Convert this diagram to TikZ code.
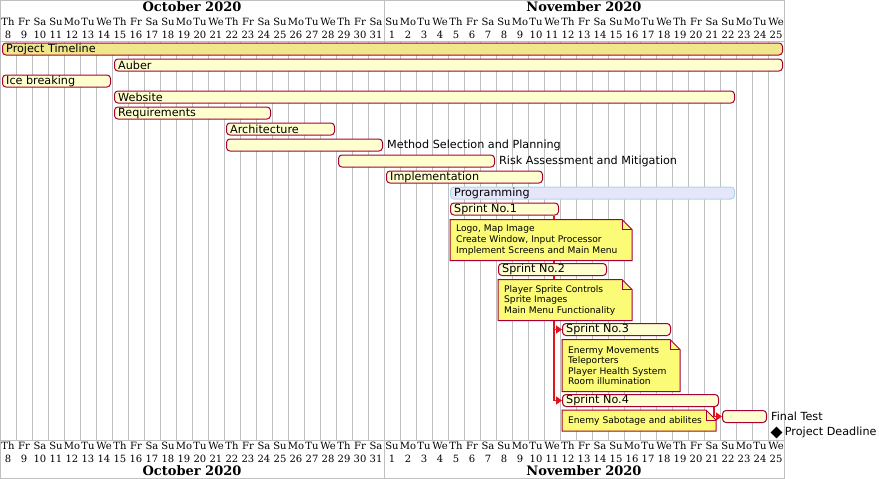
\documentclass[tikz,border=0pt]{standalone}
\usepackage{fontspec}
\setmainfont{DejaVu Sans}
\newfontfamily\hdrfont{DejaVu Serif}
\usepackage{tikz}
\usetikzlibrary{arrows.meta, backgrounds, shapes.geometric}

\definecolor{barline}{HTML}{A80036}
\definecolor{barfill}{HTML}{FEFECE}
\definecolor{topfill}{HTML}{F0E68C}
\definecolor{progfill}{HTML}{E6E6FA}
\definecolor{progline}{HTML}{ADD8E6}
\definecolor{notefill}{HTML}{FBFB77}
\definecolor{gridgray}{HTML}{C0C0C0}
\definecolor{depred}{HTML}{E0141E}

\tikzset{
  taskbar/.style={draw=barline, fill=barfill, line width=1pt, rounded corners=3.5pt,
    minimum height=12pt, inner sep=0pt, anchor=west},
  tasklabel/.style={anchor=west, inner sep=0pt, font=\fontsize{11.2}{13}\selectfont},
  notebox/.style={fill=notefill, inner xsep=6pt, inner ysep=0pt, align=left,
    font=\fontsize{9.1}{10.6}\selectfont, anchor=north west},
  depline/.style={draw=depred, line width=1.6pt, -{Triangle[length=6pt,width=8pt]}},
  dayname/.style={font=\hdrfont\fontsize{10}{12}\selectfont, inner sep=0pt},
  monthname/.style={font=\hdrfont\bfseries\fontsize{13}{15}\selectfont, inner sep=0pt}
}

\begin{document}
\begin{tikzpicture}[x=1pt, y=-1pt]
\useasboundingbox (0,0) rectangle (879,479);

% calendar grid and header frames
\begin{pgfonlayer}{background}
\foreach \i in {0,...,49} {
  \draw[gridgray] (16*\i, 41.5) -- (16*\i, 440);
}
\draw[gridgray] (0,0.5) -- (784,0.5);
\draw[gridgray] (0,41.5) -- (784,41.5);
\draw[gridgray] (0,440) -- (784,440);
\draw[gridgray] (0,478.5) -- (784,478.5);
\draw[gridgray] (0.5,0) -- (0.5,41.5) (0.5,440) -- (0.5,479);
\draw[gridgray] (384,0) -- (384,41.5) (384,440) -- (384,479);
\draw[gridgray] (784,0) -- (784,479);
\end{pgfonlayer}

\foreach \i in {0,...,48} {
  \pgfmathtruncatemacro\dnum{\i<24 ? \i+8 : \i-23}
  \pgfmathsetmacro\dname{{"Th","Fr","Sa","Su","Mo","Tu","We"}[mod(\i,7)]}
  \node[dayname] (tw\i) at (16*\i+8, 22) {\dname};
  \node[dayname] (tn\i) at (16*\i+8, 34.5) {\dnum};
  \node[dayname] (bw\i) at (16*\i+8, 446) {\dname};
  \node[dayname] (bn\i) at (16*\i+8, 458.5) {\dnum};
}
\node[monthname] (octtop) at (192,6.5) {October 2020};
\node[monthname] (novtop) at (584,6.5) {November 2020};
\node[monthname] (octbot) at (192,471) {October 2020};
\node[monthname] (novbot) at (584,471) {November 2020};

% tasks
\node[taskbar, fill=topfill, minimum width=780pt] (timeline) at (2,49) {};
\node[tasklabel] at ([xshift=4pt]timeline.west) {Project Timeline};
\node[taskbar, minimum width=668pt] (auber) at (114,65) {};
\node[tasklabel] at ([xshift=4pt]auber.west) {Auber};
\node[taskbar, minimum width=108pt] (ice) at (2,81) {};
\node[tasklabel] at ([xshift=4pt]ice.west) {Ice breaking};
\node[taskbar, minimum width=620pt] (website) at (114,97) {};
\node[tasklabel] at ([xshift=4pt]website.west) {Website};
\node[taskbar, minimum width=156pt] (req) at (114,113) {};
\node[tasklabel] at ([xshift=4pt]req.west) {Requirements};
\node[taskbar, minimum width=108pt] (arch) at (226,129) {};
\node[tasklabel] at ([xshift=4pt]arch.west) {Architecture};
\node[taskbar, minimum width=156pt] (method) at (226,145) {};
\node[tasklabel] at ([xshift=4pt]method.east) {Method Selection and Planning};
\node[taskbar, minimum width=156pt] (risk) at (338,161) {};
\node[tasklabel] at ([xshift=4pt]risk.east) {Risk Assessment and Mitigation};
\node[taskbar, minimum width=156pt] (impl) at (386,177) {};
\node[tasklabel] at ([xshift=4pt]impl.west) {Implementation};
\node[taskbar, draw=progline, fill=progfill, minimum width=284pt] (prog) at (450,193) {};
\node[tasklabel] at ([xshift=4pt]prog.west) {Programming};
\node[taskbar, minimum width=108pt] (sprint1) at (450,209) {};
\node[tasklabel] at ([xshift=4pt]sprint1.west) {Sprint No.1};
\node[taskbar, minimum width=108pt] (sprint2) at (498,269.5) {};
\node[tasklabel] at ([xshift=4pt]sprint2.west) {Sprint No.2};
\node[taskbar, minimum width=108pt] (sprint3) at (562,329.5) {};
\node[tasklabel] at ([xshift=4pt]sprint3.west) {Sprint No.3};
\node[taskbar, minimum width=156pt] (sprint4) at (562,400.5) {};
\node[tasklabel] at ([xshift=4pt]sprint4.west) {Sprint No.4};
\node[taskbar, minimum width=44pt] (final) at (722,416.5) {};
\node[tasklabel] at ([xshift=4pt]final.east) {Final Test};
\node[diamond, fill=black, aspect=1, minimum size=12pt, inner sep=0pt] (deadline) at (776.5,432.5) {};
\node[tasklabel] at ([xshift=2pt]deadline.east) {Project Deadline};

% dependencies
\begin{pgfonlayer}{background}
\draw[depline] ([xshift=-5pt]sprint1.south east) |- (sprint3.west);
\draw[depline] ([xshift=-5pt]sprint1.south east) |- (sprint4.west);
\draw[depline] ([xshift=-5pt]sprint4.south east) |- (final.west);
\end{pgfonlayer}

% notes
\foreach \nm/\x/\y/\w/\h/\txt in {
  note1/450/219.5/182/41/{Logo, Map Image\\Create Window, Input Processor\\Implement Screens and Main Menu},
  note2/498/279.5/134/41/{Player Sprite Controls\\Sprite Images\\Main Menu Functionality},
  note3/562/339.5/118/52/{Enermy Movements\\Teleporters\\Player Health System\\Room illumination},
  note4/562/410/154/21/{Enemy Sabotage and abilites}} {
  \fill[notefill] (\x,\y) -- (\x+\w-10,\y) -- (\x+\w,\y+10) -- (\x+\w,\y+\h) -- (\x,\y+\h) -- cycle;
  \draw[barline, line width=1pt] (\x,\y) -- (\x+\w-10,\y) -- (\x+\w,\y+10) -- (\x+\w,\y+\h) -- (\x,\y+\h) -- cycle;
  \draw[barline, line width=1pt] (\x+\w-10,\y) -- (\x+\w-10,\y+10) -- (\x+\w,\y+10);
  \node[notebox, fill=none, text width=\w pt-12pt, minimum height=\h pt] (\nm) at (\x,\y) {\txt};
}
\end{tikzpicture}
\end{document}
